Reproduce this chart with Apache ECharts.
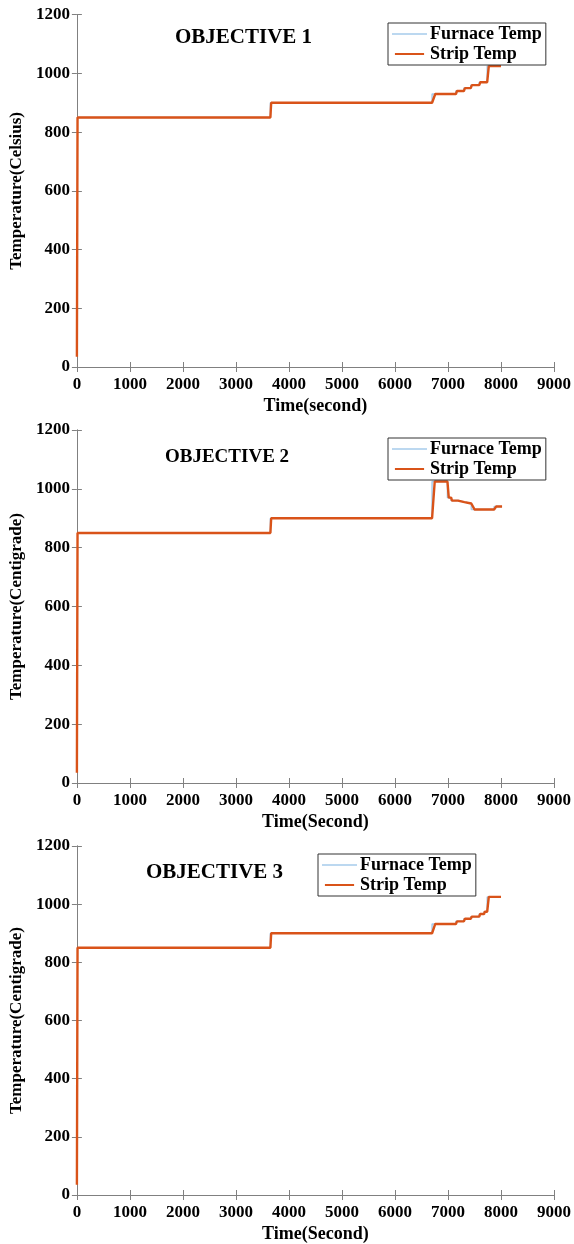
<!DOCTYPE html>
<html>
<head>
<meta charset="utf-8">
<script src="https://cdn.jsdelivr.net/npm/echarts@6/dist/echarts.min.js"></script>
<style>
html,body{margin:0;padding:0;background:#fff;}
#c{width:574px;height:1244px;}
</style>
</head>
<body>
<div id="c"></div>
<script>
// ---- data ----
var xTicks = [0,1000,2000,3000,4000,5000,6000,7000,8000,9000];
var yTicks = [0,200,400,600,800,1000,1200];
var seriesNames = ['Furnace Temp','Strip Temp'];
var titles = ['OBJECTIVE 1','OBJECTIVE 2','OBJECTIVE 3'];
var yTitles = ['Temperature(Celsius)','Temperature(Centigrade)','Temperature(Centigrade)'];
var xTitles = ['Time(second)','Time(Second)','Time(Second)'];

var furnace1 = [[0,850],[3650,850],[3650,900],[6700,900],[6700,930],[7150,930],[7150,940],[7300,940],[7300,950],[7430,950],[7430,960],[7590,960],[7590,970],[7740,970],[7740,1025],[8000,1025]];
var strip1   = [[0,35],[12,850],[3650,850],[3665,900],[6700,900],[6760,930],[7150,930],[7170,940],[7300,940],[7320,950],[7430,950],[7450,960],[7590,960],[7610,970],[7740,970],[7770,1025],[8000,1025]];

var furnace2 = [[0,850],[3650,850],[3650,900],[6700,900],[6700,1025],[6990,1025],[6990,970],[7060,970],[7060,960],[7190,960],[7190,955],[7310,955],[7310,950],[7440,950],[7440,930],[7870,930],[7870,940],[8020,940]];
var strip2   = [[0,35],[12,850],[3650,850],[3665,900],[6700,900],[6750,1025],[6990,1025],[7015,970],[7060,970],[7075,960],[7190,960],[7200,955],[7310,955],[7320,950],[7440,950],[7500,930],[7870,930],[7910,940],[8020,940]];

var furnace3 = [[0,850],[3650,850],[3650,900],[6700,900],[6700,932],[7150,932],[7150,941],[7300,941],[7300,950],[7430,950],[7430,957],[7590,957],[7590,966],[7680,966],[7680,974],[7740,974],[7740,1025],[8000,1025]];
var strip3   = [[0,35],[12,850],[3650,850],[3665,900],[6700,900],[6760,932],[7150,932],[7170,941],[7300,941],[7320,950],[7430,950],[7450,957],[7590,957],[7605,966],[7680,966],[7695,974],[7740,974],[7770,1025],[8000,1025]];

var furnaceData = [furnace1, furnace2, furnace3];
var stripData = [strip1, strip2, strip3];

// ---- layout ----
var FONT = '"Liberation Serif","Times New Roman",serif';
var grids = [
  {left:72.5, top:14.7, width:483, height:352.3},
  {left:72.5, top:430, width:483, height:353},
  {left:73.2, top:846, width:483, height:355.5}
];
var legendPos = [{left:388, top:23},{left:388, top:438},{left:318, top:854}];
var titlePos = [{left:175, top:27, size:21},{left:165, top:448, size:19},{left:146, top:862, size:21}];

var axisLineStyle = {color:'#808080', width:1};
var labelStyle = {color:'#000', fontFamily:FONT, fontWeight:'bold', fontSize:17};

var option = {
  animation:false,
  backgroundColor:'#fff',
  grid:[], xAxis:[], yAxis:[], series:[], legend:[], title:[]
};

for (var i=0;i<3;i++){
  option.grid.push(grids[i]);
  option.xAxis.push({
    type:'value', gridIndex:i, min:0, max:9000, interval:1000, position:'bottom',
    axisLine:{show:true, lineStyle:axisLineStyle},
    axisTick:{show:true, inside:true, length:5, lineStyle:axisLineStyle},
    axisLabel:Object.assign({margin:9, formatter:function(v){return xTicks.indexOf(v)>=0?String(v):'';}}, labelStyle),
    splitLine:{show:false},
    name:xTitles[i], nameLocation:'middle', nameGap:30,
    nameTextStyle:{color:'#000', fontFamily:FONT, fontWeight:'bold', fontSize:18}
  });
  option.xAxis.push({
    type:'value', gridIndex:i, min:0, max:9000, interval:1000, position:'top',
    axisLine:{show:true, lineStyle:axisLineStyle},
    axisTick:{show:true, inside:true, length:5, lineStyle:axisLineStyle},
    axisLabel:{show:false}, splitLine:{show:false}
  });
  option.yAxis.push({
    type:'value', gridIndex:i, min:0, max:1200, interval:200, position:'left',
    axisLine:{show:true, lineStyle:axisLineStyle},
    axisTick:{show:true, inside:true, length:5, lineStyle:axisLineStyle},
    axisLabel:Object.assign({margin:7, formatter:function(v){return yTicks.indexOf(v)>=0?String(v):'';}}, labelStyle),
    splitLine:{show:false},
    name:yTitles[i], nameLocation:'middle', nameGap:46, nameRotate:90,
    nameTextStyle:{color:'#000', fontFamily:FONT, fontWeight:'bold', fontSize:17}
  });
  option.yAxis.push({
    type:'value', gridIndex:i, min:0, max:1200, interval:200, position:'right',
    axisLine:{show:true, lineStyle:axisLineStyle},
    axisTick:{show:true, inside:true, length:5, lineStyle:axisLineStyle},
    axisLabel:{show:false}, splitLine:{show:false}
  });

  option.series.push({
    type:'line', name:seriesNames[0], xAxisIndex:i*2, yAxisIndex:i*2,
    data:furnaceData[i], symbol:'none', showSymbol:false,
    lineStyle:{color:'#a6cbeb', width:1.5}, itemStyle:{color:'#a6cbeb'}, z:2
  });
  option.series.push({
    type:'line', name:seriesNames[1], xAxisIndex:i*2, yAxisIndex:i*2,
    data:stripData[i], symbol:'none', showSymbol:false,
    lineStyle:{color:'#D95319', width:2.4}, itemStyle:{color:'#D95319'}, z:3
  });

  option.legend.push({
    data:[{name:seriesNames[0], icon:'path://M0,0L35,0L35,1.5L0,1.5Z'},
          {name:seriesNames[1], icon:'path://M0,0L35,0L35,2.4L0,2.4Z'}],
    orient:'vertical', left:legendPos[i].left, top:legendPos[i].top,
    itemWidth:35, itemHeight:2, itemGap:2, padding:[2,4,2,4],
    backgroundColor:'#fff', borderColor:'#333', borderWidth:1, borderRadius:0,
    selectedMode:false,
    textStyle:{color:'#000', fontFamily:FONT, fontWeight:'bold', fontSize:18, lineHeight:16, padding:[0,0,0,-2]}
  });

  option.title.push({
    text:titles[i], left:titlePos[i].left, top:titlePos[i].top, padding:0,
    textStyle:{color:'#000', fontFamily:FONT, fontWeight:'bold', fontSize:titlePos[i].size}
  });
}

var chart = echarts.init(document.getElementById('c'), null, {renderer:'canvas'});
chart.setOption(option);
</script>
</body>
</html>
